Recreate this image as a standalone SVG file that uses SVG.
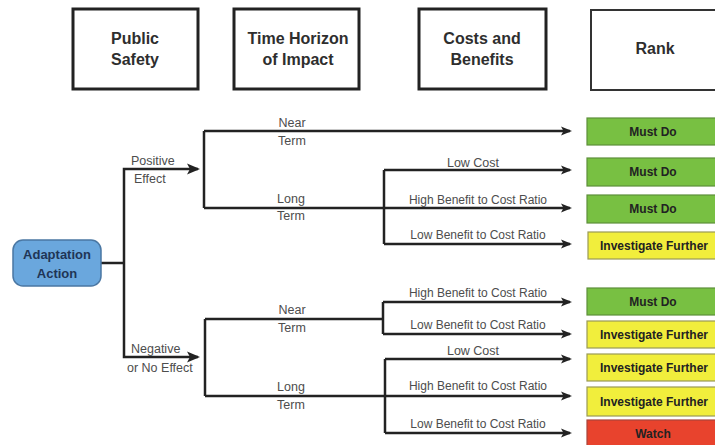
<svg xmlns="http://www.w3.org/2000/svg" width="715" height="445" viewBox="0 0 715 445">
<defs>
<style>
.hbox{fill:#fff;stroke:#222;stroke-width:3}
.hbox2{fill:#fff;stroke:#333;stroke-width:2}
.hdr{font-family:'Liberation Sans',Arial,sans-serif;font-weight:bold;font-size:16px;fill:#2e2e2e;text-anchor:middle}
.lbl{font-family:'Liberation Sans',Arial,sans-serif;font-size:12.5px;fill:#4d4d4d}
.sm{font-family:'Liberation Sans',Arial,sans-serif;font-size:12px;fill:#4d4d4d;text-anchor:middle}
.mid{text-anchor:middle}
.rk{font-family:'Liberation Sans',Arial,sans-serif;font-weight:bold;font-size:12px;fill:#222;text-anchor:middle}
.green{fill:#78c042;stroke:#5d8f3a;stroke-width:1.2}
.yellow{fill:#f1ee3c;stroke:#9a9a55;stroke-width:1.2}
.red{fill:#e8432d;stroke:#a8453a;stroke-width:1.2}
.ln{fill:none;stroke:#222;stroke-width:2.5}
.node{font-family:'Liberation Sans',Arial,sans-serif;font-weight:bold;font-size:13px;fill:#1f3556;text-anchor:middle}
</style>
<marker id="ah" markerUnits="userSpaceOnUse" markerWidth="12" markerHeight="10" refX="9" refY="5" orient="auto">
<path d="M0,0.5 L11,5 L0,9.5 L2.5,5 z" fill="#222"/>
</marker>
<marker id="ahb" markerUnits="userSpaceOnUse" markerWidth="14" markerHeight="12" refX="11" refY="6" orient="auto">
<path d="M0,0.5 L13,6 L0,11.5 L3,6 z" fill="#222"/>
</marker>
</defs>
<rect width="715" height="445" fill="#fff"/>

<g id="hdr-public">
<rect class="hbox" x="73" y="9" width="125" height="80"/>
<text class="hdr" x="135" y="44">Public</text>
<text class="hdr" x="135" y="65">Safety</text>
</g>
<g id="hdr-time">
<rect class="hbox" x="234" y="9" width="125" height="80"/>
<text class="hdr" x="298" y="44">Time Horizon</text>
<text class="hdr" x="298" y="65">of Impact</text>
</g>
<g id="hdr-costs">
<rect class="hbox" x="419" y="9" width="127" height="80"/>
<text class="hdr" x="482" y="44">Costs and</text>
<text class="hdr" x="482" y="65">Benefits</text>
</g>
<g id="hdr-rank">
<rect class="hbox2" x="591" y="10" width="135" height="80"/>
<text class="hdr" x="655" y="54">Rank</text>
</g>

<g id="connectors">
<path class="ln" d="M101,263 H124"/>
<path class="ln" d="M124,263 V169 H198" marker-end="url(#ahb)"/>
<path class="ln" d="M124,263 V357 H198" marker-end="url(#ahb)"/>
<path class="ln" d="M204,131 V208"/>
<path class="ln" d="M204,131 H570" marker-end="url(#ah)"/>
<path class="ln" d="M204,208 H570" marker-end="url(#ah)"/>
<path class="ln" d="M384,170 V244"/>
<path class="ln" d="M384,170 H570" marker-end="url(#ah)"/>
<path class="ln" d="M384,244 H570" marker-end="url(#ah)"/>
<path class="ln" d="M205,319 V396"/>
<path class="ln" d="M205,319 H383"/>
<path class="ln" d="M205,396 H570" marker-end="url(#ah)"/>
<path class="ln" d="M383,302 V334"/>
<path class="ln" d="M383,302 H570" marker-end="url(#ah)"/>
<path class="ln" d="M383,334 H570" marker-end="url(#ah)"/>
<path class="ln" d="M385,359 V433"/>
<path class="ln" d="M385,359 H570" marker-end="url(#ah)"/>
<path class="ln" d="M385,433 H570" marker-end="url(#ah)"/>

<text class="lbl" x="131" y="165">Positive</text>
<text class="lbl" x="134" y="183">Effect</text>
<text class="lbl" x="131" y="353">Negative</text>
<text class="lbl" x="127" y="372">or No Effect</text>

<text class="lbl mid" x="292" y="127">Near</text>
<text class="lbl mid" x="292" y="145">Term</text>
<text class="lbl mid" x="291" y="203">Long</text>
<text class="lbl mid" x="291" y="220">Term</text>
<text class="lbl mid" x="292" y="314">Near</text>
<text class="lbl mid" x="292" y="332">Term</text>
<text class="lbl mid" x="291" y="391">Long</text>
<text class="lbl mid" x="291" y="409">Term</text>

<text class="lbl mid" x="473" y="167">Low Cost</text>
<text class="sm" x="478" y="204">High Benefit to Cost Ratio</text>
<text class="sm" x="478" y="239">Low Benefit to Cost Ratio</text>
<text class="sm" x="478" y="297">High Benefit to Cost Ratio</text>
<text class="sm" x="478" y="329">Low Benefit to Cost Ratio</text>
<text class="lbl mid" x="473" y="355">Low Cost</text>
<text class="sm" x="478" y="390">High Benefit to Cost Ratio</text>
<text class="sm" x="478" y="428">Low Benefit to Cost Ratio</text>
</g>

<g id="adaptation-action">
<rect x="13" y="240" width="88" height="46" rx="10" ry="10" fill="#6aa7dd" stroke="#4a77a3" stroke-width="1.5"/>
<text class="node" x="57" y="259">Adaptation</text>
<text class="node" x="57" y="278">Action</text>
</g>

<g id="rank-1"><rect class="green" x="587" y="118" width="135" height="27"/><text class="rk" x="653" y="136">Must Do</text></g>
<g id="rank-2"><rect class="green" x="587" y="158" width="135" height="28"/><text class="rk" x="653" y="176">Must Do</text></g>
<g id="rank-3"><rect class="green" x="587" y="195" width="135" height="28"/><text class="rk" x="653" y="213">Must Do</text></g>
<g id="rank-4"><rect class="yellow" x="588" y="232" width="135" height="27"/><text class="rk" x="654" y="250">Investigate Further</text></g>
<g id="rank-5"><rect class="green" x="587" y="288" width="135" height="27"/><text class="rk" x="653" y="306">Must Do</text></g>
<g id="rank-6"><rect class="yellow" x="587" y="321" width="135" height="27"/><text class="rk" x="654" y="339">Investigate Further</text></g>
<g id="rank-7"><rect class="yellow" x="587" y="354" width="135" height="27"/><text class="rk" x="654" y="372">Investigate Further</text></g>
<g id="rank-8"><rect class="yellow" x="587" y="387" width="135" height="29"/><text class="rk" x="654" y="406">Investigate Further</text></g>
<g id="rank-9"><rect class="red" x="587" y="420" width="135" height="30"/><text class="rk" x="653" y="438">Watch</text></g>
</svg>
